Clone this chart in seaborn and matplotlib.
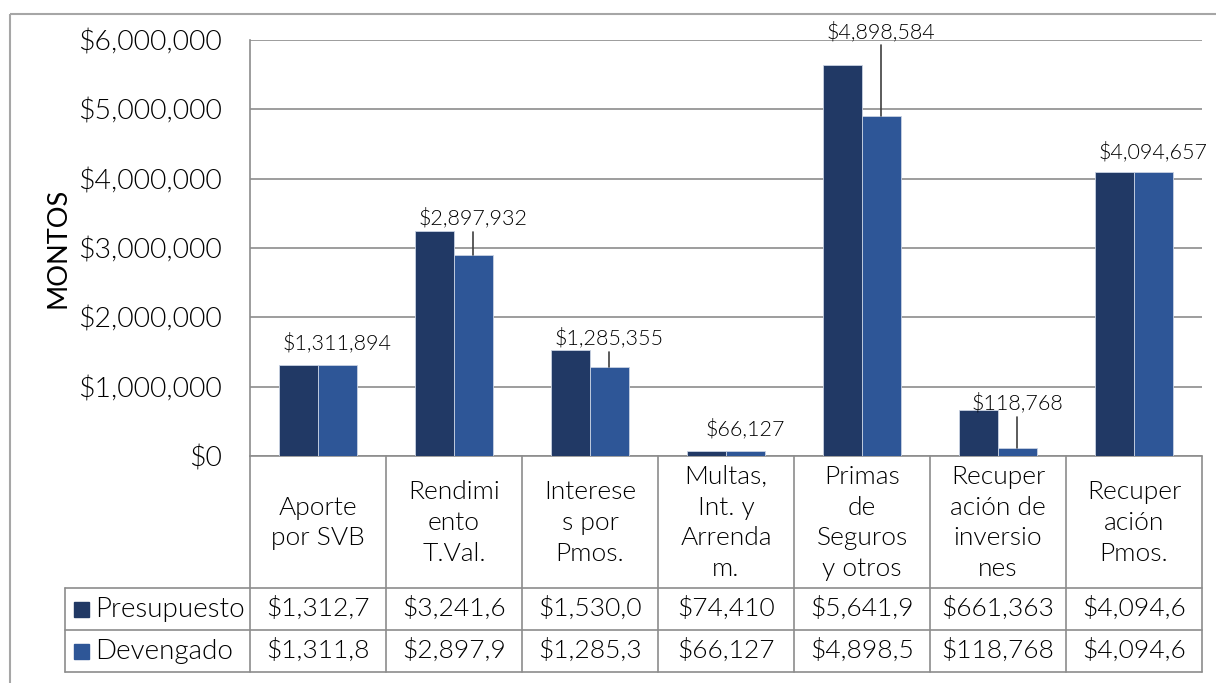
import pandas as pd
import numpy as np
import matplotlib.pyplot as plt
import seaborn as sns
from matplotlib.patches import Rectangle

# data
categories = ["Aporte\npor SVB", "Rendimi\nento\nT.Val.", "Interese\ns por\nPmos.",
              "Multas,\nInt. y\nArrenda\nm.", "Primas\nde\nSeguros\ny otros",
              "Recuper\nación de\ninversio\nnes", "Recuper\nación\nPmos."]
series = ["Presupuesto", "Devengado"]
presupuesto = [1312700, 3241600, 1530000, 74410, 5641900, 661363, 4094657]
devengado = [1311894, 2897932, 1285355, 66127, 4898584, 118768, 4094657]

# label layout (offset above tallest bar, in $M) and leader lines
label_off = [0.32, 0.19, 0.17, 0.31, 0.48, 0.10, 0.29]
leader = [False, True, True, False, True, True, False]

colors = ["#213965", "#2E5697"]
grid_c = "#8c8c8c"
txt_c = "#000000"
W, H = 1216, 683

df = pd.DataFrame({
    "cat": list(range(len(categories))) * 2,
    "serie": [series[0]] * len(categories) + [series[1]] * len(categories),
    "monto": presupuesto + devengado,
})

sns.set_theme(style="white")
plt.rcParams["font.family"] = ["Lato", "DejaVu Sans"]
plt.rcParams["font.weight"] = 300

fig = plt.figure(figsize=(W / 100, H / 100), dpi=100)

# background axes in pixel coords for frame and table
bg = fig.add_axes([0, 0, 1, 1])
bg.set_xlim(0, W)
bg.set_ylim(H, 0)
bg.axis("off")
bg.add_patch(Rectangle((10, 14), W, H, fill=False, ec="#a6a6a6", lw=1.5))

x0, x1, y0, y1 = 250, 1202, 40, 456
ax = fig.add_axes([x0 / W, 1 - y1 / H, (x1 - x0) / W, (y1 - y0) / H])
sns.barplot(data=df, x="cat", y="monto", hue="serie", palette=colors,
            width=0.57, gap=0, legend=False, ax=ax, linewidth=0.6,
            edgecolor="#c9d2e3", zorder=3, saturation=1)
ax.set_xlim(-0.5, len(categories) - 0.5)
ax.set_ylim(0, 6e6)
ax.set_yticks(np.arange(0, 6e6 + 1, 1e6))
ax.set_yticklabels([f"${v:,.0f}" for v in np.arange(0, 6e6 + 1, 1e6)],
                   fontsize=20.5, color=txt_c)
ax.tick_params(axis="y", length=0, pad=20)
ax.set_xticks([])
ax.set_xlabel("")
ax.set_ylabel("MONTOS", fontsize=19.5, color=txt_c, fontweight=400, labelpad=6)
ax.yaxis.grid(True, color=grid_c, lw=1.2, zorder=0)
for s in ["top", "right", "bottom"]:
    ax.spines[s].set_visible(False)
ax.spines["left"].set_color(grid_c)
ax.spines["left"].set_linewidth(1.2)
ax.patch.set_alpha(0)

# data labels on Devengado
off = 0.57 / 4
for i, v in enumerate(devengado):
    ly = max(presupuesto[i], v) + label_off[i] * 1e6
    ax.text(i + off, ly, f"${v:,.0f}", ha="center", va="center", fontsize=15.5,
            color=txt_c, clip_on=False, zorder=5)
    if leader[i]:
        ax.plot([i + off, i + off], [ly - 0.2e6, v], color="#404040", lw=1.2,
                zorder=4, clip_on=False)

# table
n = len(categories)
cw = (x1 - x0) / n
rows = [456, 588, 630, 672]
lx = 65
lc = grid_c
bg.plot([x0, x0], [rows[0], rows[3]], color=lc, lw=1.2)
for i in range(1, n + 1):
    bg.plot([x0 + i * cw] * 2, [rows[0], rows[3]], color=lc, lw=1.2)
for r in rows[1:]:
    bg.plot([lx, x1], [r, r], color=lc, lw=1.2)
bg.plot([x0, x1], [rows[0], rows[0]], color=lc, lw=1.2)
bg.plot([lx, lx], [rows[1], rows[3]], color=lc, lw=1.2)

for i, c in enumerate(categories):
    bg.text(x0 + (i + 0.5) * cw, (rows[0] + rows[1]) / 2 + 1, c, ha="center",
            va="center", fontsize=19, color=txt_c, linespacing=1.36)

for k, (name, vals) in enumerate(zip(series, [presupuesto, devengado])):
    yc = (rows[k + 1] + rows[k + 2]) / 2
    bg.add_patch(Rectangle((74, yc - 7.5), 15, 15, color=colors[k]))
    bg.text(95, yc, name, ha="left", va="center", fontsize=20, color=txt_c)
    for i, v in enumerate(vals):
        bg.text(x0 + (i + 0.5) * cw, yc, f"${v:,.0f}"[:8], ha="center",
                va="center", fontsize=19, color=txt_c)

fig.savefig("out.png", dpi=100)
